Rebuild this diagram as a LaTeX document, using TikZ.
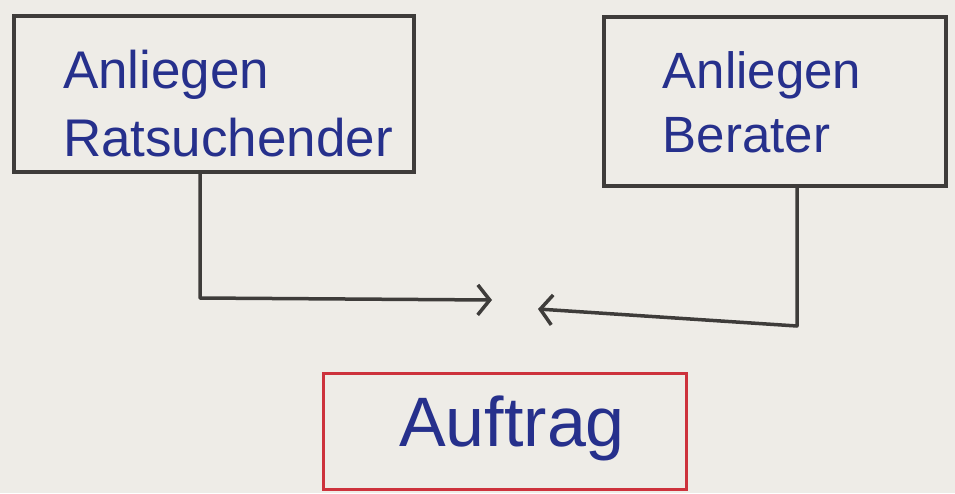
\documentclass[tikz,border=0pt]{standalone}
\usepackage{fontspec}
\setmainfont{Liberation Sans}
\usetikzlibrary{arrows.meta}
\definecolor{paper}{RGB}{238,236,231}
\definecolor{ink}{RGB}{62,60,58}
\definecolor{pen}{RGB}{38,48,140}
\definecolor{redpen}{RGB}{205,50,60}
\begin{document}
\begin{tikzpicture}[x=1pt,y=-1pt,
  box/.style={draw=ink,line width=4pt,inner sep=0pt},
  lbl/.style={text=pen,font=\fontsize{53}{68}\selectfont,align=left},
  conn/.style={draw=ink,line width=3.5pt,line join=round,
    -{Straight Barb[length=12pt,width=30pt,line width=3.5pt]}}]
\fill[paper] (0,0) rectangle (955,493);
\useasboundingbox (0,0) rectangle (955,493);
\draw[box] (14,16) rectangle (414,172);
\coordinate (lb) at (200,172);
\node[lbl] (t1) at (228,104) {Anliegen\\Ratsuchender};
\draw[box] (604,17) rectangle (946,186);
\coordinate (rb) at (797,186);
\node[lbl,font=\fontsize{51}{64}\selectfont] (t2) at (762,102) {Anliegen\\Berater};
\draw[draw=redpen,line width=3pt] (323,373) rectangle (686,489);
\node[lbl,font=\fontsize{70}{80}\selectfont] (t3) at (512,428) {Auftrag};
\coordinate (la) at (492,300);
\coordinate (ra) at (538,309);
\draw[conn] (lb) -- (200,298) -- (la);
\draw[conn] (rb) -- (797,326) -- (ra);
\end{tikzpicture}
\end{document}
